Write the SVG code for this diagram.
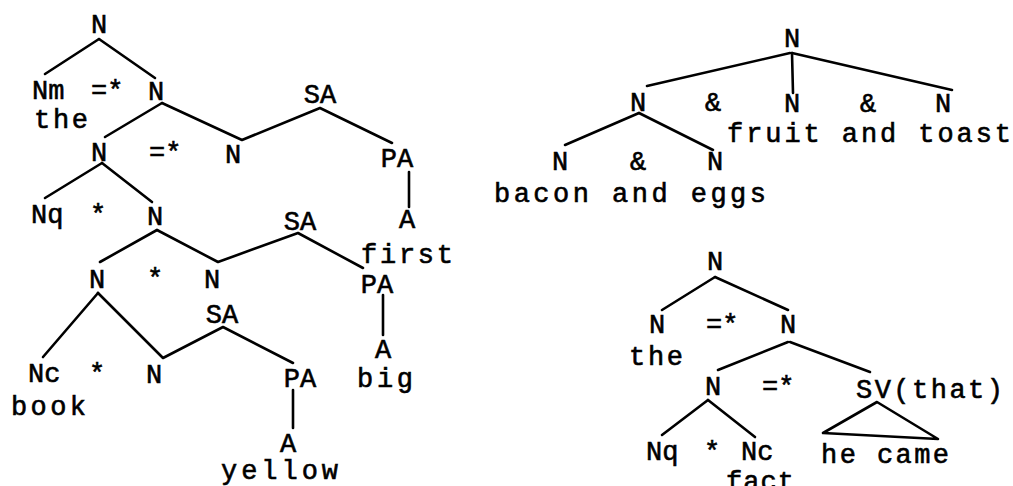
<svg xmlns="http://www.w3.org/2000/svg" width="1013" height="486" viewBox="0 0 1013 486">
  <style>
    .t { font-family: "Liberation Mono", "Courier New", monospace; font-size: 27px; fill: #000; stroke: #000; stroke-width: 0.6px; }
    .c { text-anchor: middle; }
    .ln { fill: none; stroke: #000; stroke-width: 2.6; stroke-linecap: round; stroke-linejoin: round; }
  </style>
  <rect width="1013" height="486" fill="#fff"/>

  <!-- connectors -->
  <g id="connectors" class="ln">
    <!-- tree 1: the first book big yellow -->
    <line x1="99" y1="39" x2="45" y2="74"/>
    <line x1="99" y1="39" x2="155" y2="78"/>
    <line x1="162" y1="103" x2="105" y2="137"/>
    <polyline points="162,103 242,140 320,108 392,143"/>
    <line x1="409" y1="172" x2="409" y2="207"/>
    <line x1="102" y1="163" x2="45" y2="198"/>
    <line x1="102" y1="163" x2="152" y2="202"/>
    <line x1="157" y1="230" x2="100" y2="262"/>
    <polyline points="157,230 218,262 298,233 363,268"/>
    <line x1="383" y1="295" x2="383" y2="335"/>
    <line x1="98" y1="293" x2="43" y2="357"/>
    <polyline points="98,293 163,358 223,327 293,363"/>
    <line x1="293" y1="390" x2="293" y2="428"/>
    <!-- tree 2: bacon and eggs & fruit and toast -->
    <line x1="790" y1="53" x2="647" y2="86"/>
    <line x1="792" y1="53" x2="793" y2="93"/>
    <line x1="792" y1="53" x2="952" y2="90"/>
    <line x1="639" y1="113" x2="565" y2="145"/>
    <line x1="639" y1="113" x2="713" y2="150"/>
    <!-- tree 3: the fact that he came -->
    <line x1="715" y1="277" x2="662" y2="310"/>
    <line x1="715" y1="277" x2="788" y2="310"/>
    <line x1="788" y1="342" x2="718" y2="370"/>
    <line x1="790" y1="342" x2="870" y2="372"/>
    <line x1="708" y1="400" x2="662" y2="435"/>
    <line x1="708" y1="400" x2="755" y2="437"/>
    <polygon points="877,402 823,433 938,439"/>
  </g>

  <!-- tree 1 nodes -->
  <g id="t1-n-root"><text class="t c" x="99" y="33">N</text></g>
  <g id="t1-nm"><text class="t" x="32" y="99">Nm</text><text class="t" x="34" y="128" textLength="54">the</text></g>
  <g id="t1-op1"><text class="t" x="91" y="99">=*</text></g>
  <g id="t1-n2"><text class="t c" x="156" y="100">N</text></g>
  <g id="t1-sa1"><text class="t c" x="320" y="103">SA</text></g>
  <g id="t1-n3"><text class="t c" x="99" y="161">N</text></g>
  <g id="t1-op2"><text class="t" x="149" y="161">=*</text></g>
  <g id="t1-n4"><text class="t c" x="233" y="163">N</text></g>
  <g id="t1-pa1"><text class="t c" x="397" y="167">PA</text></g>
  <g id="t1-a1"><text class="t c" x="407" y="228">A</text><text class="t" x="361" y="263" textLength="92">first</text></g>
  <g id="t1-nq"><text class="t" x="31" y="223">Nq</text></g>
  <g id="t1-op3"><text class="t c" x="98" y="223">*</text></g>
  <g id="t1-n5"><text class="t c" x="155" y="225">N</text></g>
  <g id="t1-sa2"><text class="t c" x="300" y="230">SA</text></g>
  <g id="t1-n6"><text class="t c" x="97" y="288">N</text></g>
  <g id="t1-op4"><text class="t c" x="155" y="287">*</text></g>
  <g id="t1-n7"><text class="t c" x="212" y="288">N</text></g>
  <g id="t1-pa2"><text class="t c" x="377" y="293">PA</text></g>
  <g id="t1-a2"><text class="t c" x="383" y="358">A</text><text class="t" x="357" y="387" textLength="56">big</text></g>
  <g id="t1-sa3"><text class="t c" x="222" y="323">SA</text></g>
  <g id="t1-nc"><text class="t" x="28" y="382">Nc</text><text class="t" x="11" y="415" textLength="75">book</text></g>
  <g id="t1-op5"><text class="t c" x="97" y="382">*</text></g>
  <g id="t1-n8"><text class="t c" x="154" y="383">N</text></g>
  <g id="t1-pa3"><text class="t c" x="300" y="387">PA</text></g>
  <g id="t1-a3"><text class="t c" x="288" y="452">A</text><text class="t" x="221" y="479" textLength="117">yellow</text></g>

  <!-- tree 2 nodes -->
  <g id="t2-root"><text class="t c" x="792" y="47">N</text></g>
  <g id="t2-n1"><text class="t c" x="638" y="111">N</text></g>
  <g id="t2-amp1"><text class="t c" x="713" y="111">&amp;</text></g>
  <g id="t2-n2"><text class="t c" x="792" y="112">N</text></g>
  <g id="t2-amp2"><text class="t c" x="868" y="112">&amp;</text></g>
  <g id="t2-n3"><text class="t c" x="943" y="112">N</text></g>
  <g id="t2-fruit"><text class="t" x="727" y="142" textLength="284">fruit and toast</text></g>
  <g id="t2-n4"><text class="t c" x="560" y="170">N</text></g>
  <g id="t2-amp3"><text class="t c" x="638" y="170">&amp;</text></g>
  <g id="t2-n5"><text class="t c" x="715" y="170">N</text></g>
  <g id="t2-bacon"><text class="t" x="494" y="202" textLength="272">bacon and eggs</text></g>

  <!-- tree 3 nodes -->
  <g id="t3-root"><text class="t c" x="715" y="270">N</text></g>
  <g id="t3-n1"><text class="t c" x="657" y="333">N</text><text class="t" x="629" y="365" textLength="54">the</text></g>
  <g id="t3-op1"><text class="t" x="706" y="333">=*</text></g>
  <g id="t3-n2"><text class="t c" x="788" y="333">N</text></g>
  <g id="t3-n3"><text class="t c" x="713" y="395">N</text></g>
  <g id="t3-op2"><text class="t" x="762" y="395">=*</text></g>
  <g id="t3-sv"><text class="t" x="856" y="398" textLength="147">SV(that)</text><text class="t" x="821" y="463" textLength="128">he came</text></g>
  <g id="t3-nq"><text class="t" x="646" y="460">Nq</text></g>
  <g id="t3-op3"><text class="t c" x="712" y="460">*</text></g>
  <g id="t3-nc"><text class="t" x="741" y="460">Nc</text><text class="t" x="726" y="490" textLength="68">fact</text></g>
</svg>
